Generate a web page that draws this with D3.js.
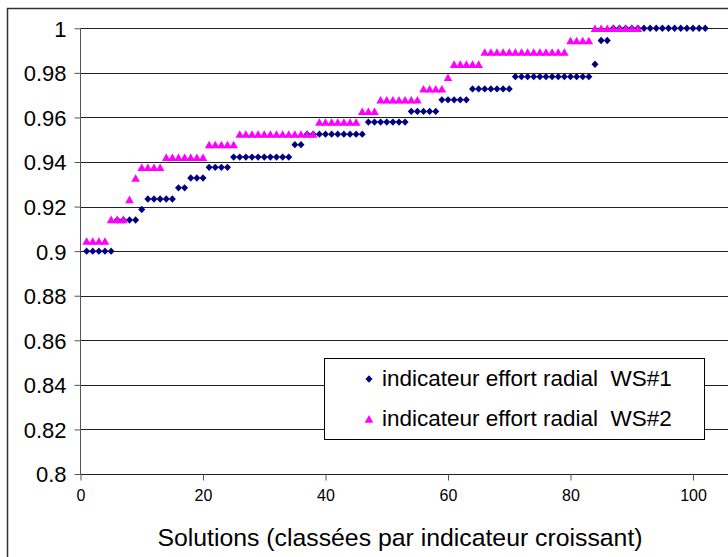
<!DOCTYPE html>
<meta charset="utf-8">
<script src="https://d3js.org/d3.v7.min.js"></script>
<style>
  body { margin: 0; background: #fff; }
  text { font-family: "Liberation Sans", Arial, sans-serif; fill: #000; }
</style>
<svg id="chart" width="728" height="557"></svg>
<script>

// solutions ranked by indicator (x = 1..n)
var ws1 = [
  0.900, 0.900, 0.900, 0.900, 0.900,
  0.914, 0.914, 0.914, 0.914,
  0.9187,
  0.9234, 0.9234, 0.9234, 0.9234, 0.9234,
  0.9284, 0.9284,
  0.9328, 0.9328, 0.9328,
  0.9376, 0.9376, 0.9376, 0.9376,
  0.9422, 0.9422, 0.9422, 0.9422, 0.9422, 0.9422, 0.9422, 0.9422, 0.9422, 0.9422,
  0.9478, 0.9478,
  0.9525, 0.9525, 0.9525, 0.9525, 0.9525, 0.9525, 0.9525, 0.9525, 0.9525, 0.9525,
  0.9579, 0.9579, 0.9579, 0.9579, 0.9579, 0.9579, 0.9579,
  0.9627, 0.9627, 0.9627, 0.9627, 0.9627,
  0.9679, 0.9679, 0.9679, 0.9679, 0.9679,
  0.9728, 0.9728, 0.9728, 0.9728, 0.9728, 0.9728, 0.9728,
  0.9783, 0.9783, 0.9783, 0.9783, 0.9783, 0.9783, 0.9783, 0.9783, 0.9783, 0.9783, 0.9783, 0.9783, 0.9783,
  0.9839,
  0.9945, 0.9945,
  1, 1, 1, 1, 1, 1, 1, 1, 1, 1, 1, 1, 1, 1, 1, 1
];

var ws2 = [
  0.9045, 0.9045, 0.9045, 0.9045,
  0.9142, 0.9142, 0.9142,
  0.9232,
  0.9328,
  0.9376, 0.9376, 0.9376, 0.9376,
  0.9421, 0.9421, 0.9421, 0.9421, 0.9421, 0.9421, 0.9421,
  0.9478, 0.9478, 0.9478, 0.9478, 0.9478,
  0.9525, 0.9525, 0.9525, 0.9525, 0.9525, 0.9525, 0.9525, 0.9525, 0.9525, 0.9525, 0.9525, 0.9525, 0.9525,
  0.9579, 0.9579, 0.9579, 0.9579, 0.9579, 0.9579, 0.9579,
  0.9627, 0.9627, 0.9627,
  0.9679, 0.9679, 0.9679, 0.9679, 0.9679, 0.9679, 0.9679,
  0.9728, 0.9728, 0.9728, 0.9728,
  0.978,
  0.9839, 0.9839, 0.9839, 0.9839, 0.9839,
  0.9893, 0.9893, 0.9893, 0.9893, 0.9893, 0.9893, 0.9893, 0.9893, 0.9893, 0.9893, 0.9893, 0.9893, 0.9893, 0.9893,
  0.9945, 0.9945, 0.9945, 0.9945,
  1, 1, 1, 1, 1, 1, 1, 1
];

var xTicks = [0, 20, 40, 60, 80, 100];
var yTicks = [0.8, 0.82, 0.84, 0.86, 0.88, 0.9, 0.92, 0.94, 0.96, 0.98, 1];
var seriesNames = ["indicateur effort radial  WS#1", "indicateur effort radial  WS#2"];
var xTitle = "Solutions (classées par indicateur croissant)";

var svg = d3.select("#chart");

// scales (plot area runs past the right edge of the picture)
var x = d3.scaleLinear().domain([0, 120]).range([80.5, 815.5]);
var y = d3.scaleLinear().domain([0.8, 1]).range([474, 28.3]);

// chart border
svg.append("rect")
  .attr("x", 7.5).attr("y", 8.5)
  .attr("width", 760).attr("height", 600)
  .attr("fill", "none").attr("stroke", "#333").attr("stroke-width", 1.5);

// gridlines
svg.append("g")
  .selectAll("line")
  .data(yTicks.slice(1))
  .enter().append("line")
    .attr("x1", x(0)).attr("x2", 728)
    .attr("y1", function(d) { return Math.round(y(d)) + 0.5; })
    .attr("y2", function(d) { return Math.round(y(d)) + 0.5; })
    .attr("stroke", "#222").attr("stroke-width", 1);

// y axis
var yAxis = d3.axisLeft(y).tickValues(yTicks).tickSize(6).tickPadding(8)
  .tickFormat(function(d) { return d3.format("")(+d.toFixed(2)); });
var gy = svg.append("g").attr("transform", "translate(80.5,0)").call(yAxis);
gy.select(".domain").attr("stroke", "#555").attr("d", "M0," + y(0.8) + "V" + y(1));
gy.selectAll(".tick line").attr("stroke", "#555");
gy.selectAll("text").style("font-size", "22px").attr("font-family", null).attr("dy", "0.36em");

// x axis
var xAxis = d3.axisBottom(x).tickValues(xTicks).tickSize(6).tickPadding(9);
var gx = svg.append("g").attr("transform", "translate(0," + (Math.round(y(0.8)) + 0.5) + ")").call(xAxis);
gx.select(".domain").attr("stroke", "#222").attr("d", "M" + x(0) + ",0H728");
gx.selectAll(".tick line").attr("stroke", "#555");
gx.selectAll("text").style("font-size", "16px").attr("font-family", null);

svg.append("text")
  .attr("x", 400).attr("y", 546)
  .attr("text-anchor", "middle")
  .style("font-size", "24.8px")
  .text(xTitle);

var diamond = "M0,-3.7L3.5,0L0,3.7L-3.5,0Z";
var triangle = "M0,-3.9L4.3,3.7L-4.3,3.7Z";

// WS#1 diamonds
svg.append("g")
  .selectAll("path")
  .data(ws1)
  .enter().append("path")
    .attr("d", diamond)
    .attr("transform", function(d, i) { return "translate(" + x(i + 1) + "," + y(d) + ")"; })
    .attr("fill", "#000080");

// WS#2 triangles
svg.append("g")
  .selectAll("path")
  .data(ws2)
  .enter().append("path")
    .attr("d", triangle)
    .attr("transform", function(d, i) { return "translate(" + x(i + 1) + "," + y(d) + ")"; })
    .attr("fill", "#ff00ff");

// legend
var legend = svg.append("g");
legend.append("rect")
  .attr("x", 324.5).attr("y", 358.5)
  .attr("width", 380).attr("height", 81)
  .attr("fill", "#fff").attr("stroke", "#000").attr("stroke-width", 1);

legend.append("path").attr("d", diamond).attr("transform", "translate(369,379)").attr("fill", "#000080");
legend.append("path").attr("d", triangle).attr("transform", "translate(369,419)").attr("fill", "#ff00ff");

legend.selectAll("text")
  .data(seriesNames)
  .enter().append("text")
    .attr("x", 382)
    .attr("y", function(d, i) { return 386 + i * 40; })
    .style("font-size", "22.5px")
    .style("white-space", "pre")
    .text(function(d) { return d; });

</script>
